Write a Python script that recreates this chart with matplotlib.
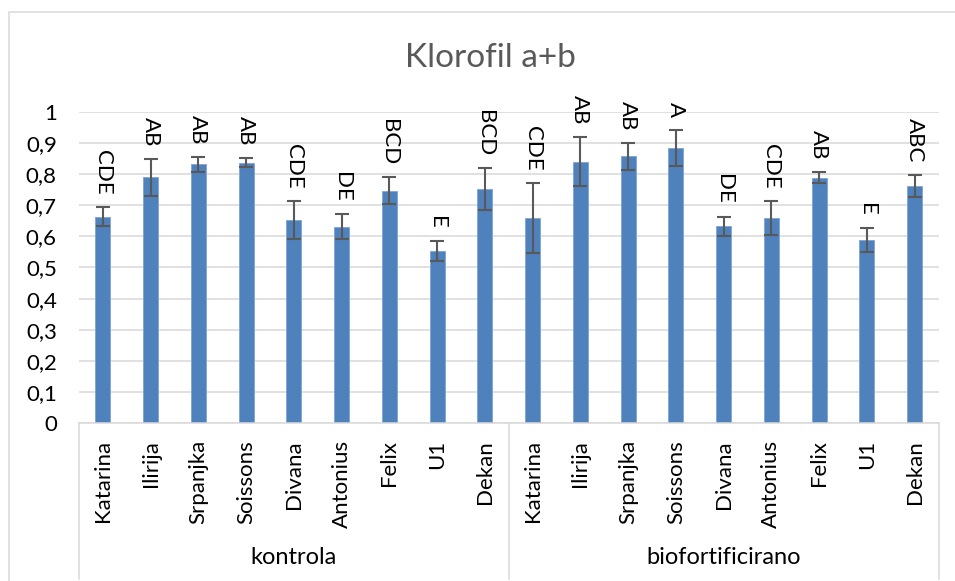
import matplotlib.pyplot as plt
import matplotlib.transforms as mtransforms
from matplotlib.patches import Rectangle
import numpy as np

plt.rcParams['font.family'] = ['Lato', 'DejaVu Sans']

CULTIVARS = ['Katarina', 'Ilirija', 'Srpanjka', 'Soissons', 'Divana',
             'Antonius', 'Felix', 'U1', 'Dekan']
GROUPS = ['kontrola', 'biofortificirano']

# mean values per group
kontrola_mean = [0.663, 0.789, 0.831, 0.836, 0.653, 0.631, 0.747, 0.552, 0.751]
kontrola_err = [0.031, 0.059, 0.025, 0.015, 0.061, 0.040, 0.042, 0.032, 0.067]
kontrola_letters = ['CDE', 'AB', 'AB', 'AB', 'CDE', 'DE', 'BCD', 'E', 'BCD']

bio_mean = [0.658, 0.840, 0.857, 0.884, 0.632, 0.658, 0.788, 0.589, 0.761]
bio_err = [0.112, 0.078, 0.043, 0.058, 0.031, 0.055, 0.017, 0.038, 0.036]
bio_letters = ['CDE', 'AB', 'AB', 'A', 'DE', 'CDE', 'AB', 'E', 'ABC']

TITLE = 'Klorofil a+b'
BAR_COLOR = '#4F81BD'
GRID_COLOR = '#D9D9D9'
ERR_COLOR = '#595959'


def fmt_tick(v: float) -> str:
    # Excel style: comma decimals, no trailing ",0"
    s = f'{v:.1f}'.replace('.', ',')
    return s[:-2] if s.endswith(',0') else s


def main() -> None:
    means = kontrola_mean + bio_mean
    errs = kontrola_err + bio_err
    letters = kontrola_letters + bio_letters
    labels = CULTIVARS * len(GROUPS)
    x = np.arange(len(means))

    fig = plt.figure(figsize=(9.55, 5.81), dpi=100)
    W, H = 955, 581
    ax = fig.add_axes([79 / W, 1 - 423.3 / H, (938.5 - 79) / W,
                       (423.3 - 111.7) / H])

    ax.bar(x, means, width=0.31, color=BAR_COLOR, edgecolor='#7FA3D3',
           linewidth=0.6, zorder=2)
    ax.errorbar(x, means, yerr=errs, fmt='none', ecolor=ERR_COLOR,
                elinewidth=1.5, capsize=4.7, capthick=1.5, zorder=3)

    # significance letters above each bar
    for xi, m, e, lab in zip(x, means, errs, letters):
        y = m + max(0.055, e + 0.04)
        ax.text(xi, y, lab, rotation=-90, ha='center', va='bottom',
                fontsize=16, color='black', clip_on=False, zorder=4)

    ticks = np.arange(0, 1.01, 0.1)
    ax.set_xlim(-0.5, len(means) - 0.5)
    ax.set_ylim(0, 1)
    ax.set_yticks(ticks)
    ax.set_yticklabels([fmt_tick(v) for v in ticks])
    ax.set_xticks(x)
    ax.set_xticklabels(labels, rotation=90, va='top', ha='center')
    ax.tick_params(axis='y', length=0, pad=16, labelsize=16,
                   labelcolor='black')
    ax.tick_params(axis='x', length=0, pad=12, labelsize=16,
                   labelcolor='black')
    ax.grid(axis='y', color=GRID_COLOR, lw=1.1, zorder=0)
    ax.set_axisbelow(True)
    for side in ['top', 'right', 'left']:
        ax.spines[side].set_visible(False)
    ax.spines['bottom'].set_color(GRID_COLOR)
    ax.spines['bottom'].set_linewidth(1.1)

    trans = mtransforms.blended_transform_factory(ax.transData, ax.transAxes)
    n = len(CULTIVARS)
    for b in [-0.5, n - 0.5, 2 * n - 0.5]:
        ax.plot([b, b], [0, -0.5], transform=trans, color=GRID_COLOR,
                lw=1.1, clip_on=False)
    for i, g in enumerate(GROUPS):
        ax.text(i * n + (n - 1) / 2, -0.43, g, transform=trans,
                ha='center', va='center', fontsize=17, color='black')

    fig.text(490 / W, 1 - 67 / H, TITLE, ha='center', va='baseline',
             fontsize=24, color='#595959')

    fig.patches.append(Rectangle((9 / W, -0.1), 1.2, 1 - 12 / H + 0.1,
                                 transform=fig.transFigure, fill=False,
                                 edgecolor=GRID_COLOR, lw=1.1))

    fig.savefig('out.png', dpi=100)


if __name__ == '__main__':
    main()
